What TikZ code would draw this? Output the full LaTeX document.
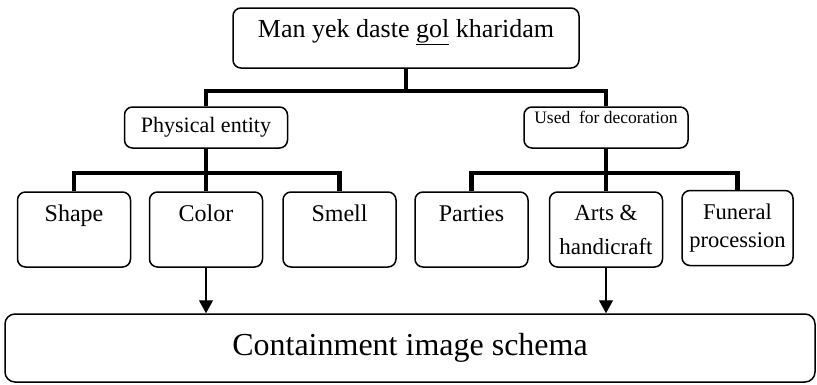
\documentclass[tikz,border=0pt]{standalone}
\usepackage{fontspec}
\setmainfont{Liberation Serif}
\usetikzlibrary{arrows.meta}

\tikzset{
  box/.style={draw, line width=1.5pt, rounded corners=8pt, inner xsep=2pt, inner ysep=0pt,
    minimum width=113pt, minimum height=75pt, align=center, font=\fontsize{24}{27}\selectfont},
  oneline/.style={text height=29pt, text depth=46pt},
  bar/.style={line width=4.5pt},
  arr/.style={line width=1.2pt, -{Triangle[length=13pt,width=14pt]}}
}

\begin{document}
\begin{tikzpicture}[x=1pt,y=-1pt]
	\useasboundingbox (0,0) rectangle (817,384);

	% top of the tree
	\node[box, minimum width=346pt, minimum height=60pt, text height=29pt, text depth=31pt,
		font=\fontsize{26}{28}\selectfont] (top) at (406,38) {Man yek daste \underline{gol} kharidam};
	\node[box, minimum width=163pt, minimum height=41pt, font=\fontsize{22}{24}\selectfont] (phys) at (206,127.5) {Physical entity};
	\node[box, minimum width=164pt, minimum height=41pt, text height=16pt, text depth=25pt,
		font=\fontsize{17.5}{19}\selectfont] (deco) at (606,127.5) {Used\ \ for decoration};

	% leaves
	\foreach \n/\x/\t in {shape/74/Shape, color/206/Color, smell/339.5/Smell, parties/471.5/Parties}
		\node[box, oneline] (\n) at (\x,229.5) {\t};
	\node[box, font=\fontsize{23}{34}\selectfont] (arts) at (606,229.5) {Arts \&\\handicraft};
	\node[box, minimum width=111pt, font=\fontsize{22.5}{28}\selectfont] (funeral) at (737.5,228) {Funeral\\procession};

	\node[box, minimum width=810pt, minimum height=68pt, rounded corners=10pt,
		font=\fontsize{32}{34}\selectfont] (schema) at (410,348) {Containment image schema};

	% tree lines
	\draw[bar] (top.south) -- ++(0,22) coordinate (tj);
	\draw[bar] (phys.north) |- (tj) -| (deco.north);
	\draw[bar] (phys.south) -- ++(0,24) coordinate (lj);
	\draw[bar] (shape.north) |- (lj) -| (smell.north);
	\draw[bar] (lj) -- (color.north);
	\draw[bar] (deco.south) -- ++(0,24) coordinate (rj);
	\draw[bar] (parties.north) |- (rj) -| (funeral.north);
	\draw[bar] (rj) -- (arts.north);

	% arrows
	\draw[arr] (color.south) -- (color.south |- schema.north);
	\draw[arr] (arts.south) -- (arts.south |- schema.north);
\end{tikzpicture}
\end{document}
